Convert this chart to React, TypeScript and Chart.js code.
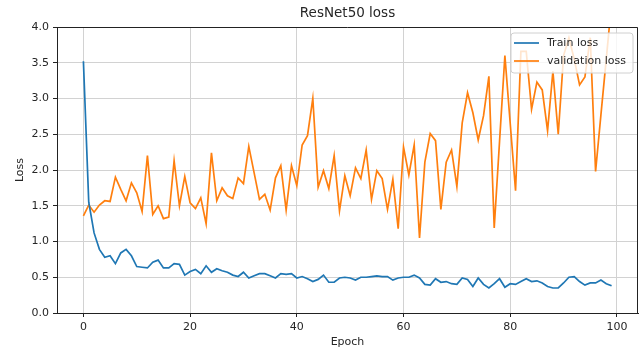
import React, { useEffect, useRef } from "react";
import { Chart, registerables } from "chart.js";

Chart.register(...registerables);

const trainLoss = [
  3.52, 1.55, 1.12, 0.89, 0.78, 0.8, 0.69, 0.84, 0.89, 0.8,
  0.65, 0.64, 0.63, 0.71, 0.74, 0.63, 0.63, 0.69, 0.68, 0.53,
  0.58, 0.61, 0.55, 0.66, 0.57, 0.62, 0.59, 0.57, 0.53, 0.51,
  0.57, 0.49, 0.52, 0.55, 0.55, 0.52, 0.49, 0.55, 0.54, 0.55,
  0.49, 0.51, 0.48, 0.44, 0.47, 0.53, 0.43, 0.43, 0.49, 0.5,
  0.49, 0.46, 0.5, 0.5, 0.51, 0.52, 0.51, 0.51, 0.46, 0.49,
  0.5, 0.5, 0.53, 0.49, 0.4, 0.39, 0.48, 0.43, 0.44, 0.41,
  0.4, 0.49, 0.47, 0.37, 0.49, 0.4, 0.35, 0.41, 0.48, 0.36,
  0.41, 0.4, 0.44, 0.48, 0.44, 0.45, 0.42, 0.37, 0.35, 0.35,
  0.42, 0.5, 0.51, 0.44, 0.39, 0.42, 0.42, 0.46, 0.41, 0.38,
];

const validationLoss = [
  1.36, 1.51, 1.41, 1.51, 1.57, 1.56, 1.9, 1.73, 1.57, 1.82,
  1.68, 1.42, 2.2, 1.38, 1.5, 1.32, 1.34, 2.13, 1.5, 1.91,
  1.54, 1.46, 1.61, 1.25, 2.24, 1.57, 1.75, 1.64, 1.6, 1.89,
  1.81, 2.33, 1.96, 1.59, 1.66, 1.44, 1.89, 2.06, 1.44, 2.06,
  1.78, 2.35, 2.48, 3.0, 1.76, 1.99, 1.74, 2.2, 1.43, 1.92,
  1.64, 2.03, 1.88, 2.28, 1.59, 1.99, 1.88, 1.45, 1.87, 1.18,
  2.32, 1.93, 2.35, 1.05, 2.11, 2.51, 2.41, 1.45, 2.11, 2.28,
  1.77, 2.66, 3.08, 2.8, 2.42, 2.76, 3.31, 1.19, 2.4, 3.6,
  2.65, 1.71, 3.66, 3.66, 2.85, 3.23, 3.12, 2.55, 3.38, 2.5,
  3.6, 3.85, 3.55, 3.19, 3.3, 3.85, 1.98, 2.77, 3.55, 4.34,
];

const epochs = trainLoss.map((_, i) => i);
const xTicks = [0, 20, 40, 60, 80, 100];
const yTicks = [0, 0.5, 1, 1.5, 2, 2.5, 3, 3.5, 4];
const chartTitle = "ResNet50 loss";
const xTitle = "Epoch";
const yTitle = "Loss";
const seriesNames = ["Train loss", "validation loss"];
const seriesColors = ["#1f77b4", "#ff7f0e"];

const FONT = "'DejaVu Sans', sans-serif";
const TEXT = "#262626";
const SPINE = "#222222";
const GRID = "#d2d2d2";

export default function App() {
  const ref = useRef<HTMLCanvasElement | null>(null);

  useEffect(() => {
    document.body.style.margin = "0";
    const canvas = ref.current;
    if (!canvas) return;

    const decorPlugin = {
      id: "mplDecor",
      afterDatasetsDraw(chart: any) {
        const { ctx, chartArea } = chart;
        const { left, right, top, bottom } = chartArea;
        ctx.save();
        // spines
        ctx.strokeStyle = SPINE;
        ctx.lineWidth = 1;
        ctx.beginPath();
        ctx.moveTo(left + 0.5, top + 0.5);
        ctx.lineTo(right - 0.5, top + 0.5);
        ctx.lineTo(right - 0.5, bottom + 0.5);
        ctx.lineTo(left + 0.5, bottom + 0.5);
        ctx.closePath();
        ctx.stroke();

        // title
        ctx.font = `13.5px ${FONT}`;
        ctx.fillStyle = TEXT;
        ctx.textAlign = "center";
        ctx.textBaseline = "middle";
        ctx.fillText(chartTitle, (left + right) / 2, 13);

        // legend
        const bw = 122;
        const bh = 40;
        const bx = right - 5 - bw;
        const by = top + 6;
        const r = 3;
        ctx.beginPath();
        ctx.moveTo(bx + r, by);
        ctx.lineTo(bx + bw - r, by);
        ctx.arcTo(bx + bw, by, bx + bw, by + r, r);
        ctx.lineTo(bx + bw, by + bh - r);
        ctx.arcTo(bx + bw, by + bh, bx + bw - r, by + bh, r);
        ctx.lineTo(bx + r, by + bh);
        ctx.arcTo(bx, by + bh, bx, by + bh - r, r);
        ctx.lineTo(bx, by + r);
        ctx.arcTo(bx, by, bx + r, by, r);
        ctx.closePath();
        ctx.fillStyle = "rgba(255,255,255,0.8)";
        ctx.fill();
        ctx.strokeStyle = "#d0d0d0";
        ctx.lineWidth = 1;
        ctx.stroke();

        ctx.font = `11px ${FONT}`;
        ctx.textAlign = "left";
        ctx.textBaseline = "middle";
        seriesNames.forEach((name, i) => {
          const ly = by + 10 + i * 18;
          ctx.strokeStyle = seriesColors[i];
          ctx.lineWidth = 1.7;
          ctx.beginPath();
          ctx.moveTo(bx + 3, ly);
          ctx.lineTo(bx + 28, ly);
          ctx.stroke();
          ctx.fillStyle = TEXT;
          ctx.fillText(name, bx + 36, ly);
        });
        ctx.restore();
      },
    };

    const chart = new Chart(canvas, {
      type: "line",
      data: {
        datasets: [
          {
            label: seriesNames[0],
            data: epochs.map((e, i) => ({ x: e, y: trainLoss[i] })),
            borderColor: seriesColors[0],
            backgroundColor: seriesColors[0],
            borderWidth: 1.7,
            pointRadius: 0,
            tension: 0,
            fill: false,
          },
          {
            label: seriesNames[1],
            data: epochs.map((e, i) => ({ x: e, y: validationLoss[i] })),
            borderColor: seriesColors[1],
            backgroundColor: seriesColors[1],
            borderWidth: 1.7,
            pointRadius: 0,
            tension: 0,
            fill: false,
          },
        ],
      },
      options: {
        responsive: false,
        animation: false,
        layout: { padding: { top: 27, right: 3, left: 0, bottom: 0 } },
        plugins: {
          legend: { display: false },
          title: { display: false },
          tooltip: { enabled: false },
        },
        scales: {
          x: {
            type: "linear",
            min: -4.95,
            max: 103.95,
            afterBuildTicks: (axis: any) => {
              axis.ticks = xTicks.map((v) => ({ value: v }));
            },
            afterFit: (axis: any) => {
              axis.height = 37;
            },
            ticks: {
              font: { family: FONT, size: 11 },
              color: TEXT,
              padding: 4,
              maxRotation: 0,
              autoSkip: false,
              callback: (v: any) => String(v),
            },
            grid: {
              color: GRID,
              tickColor: SPINE,
              tickLength: 4,
              lineWidth: 1,
            },
            border: { color: SPINE, width: 1 },
            title: {
              display: true,
              text: xTitle,
              font: { family: FONT, size: 11 },
              color: TEXT,
              padding: { top: 0, bottom: 1.5 },
            },
          },
          y: {
            type: "linear",
            min: 0,
            max: 4,
            afterBuildTicks: (axis: any) => {
              axis.ticks = yTicks.map((v) => ({ value: v }));
            },
            afterFit: (axis: any) => {
              axis.width = 57;
            },
            ticks: {
              font: { family: FONT, size: 11 },
              color: TEXT,
              padding: 4,
              autoSkip: false,
              callback: (v: any) => Number(v).toFixed(1),
            },
            grid: {
              color: GRID,
              tickColor: SPINE,
              tickLength: 4,
              lineWidth: 1,
            },
            border: { color: SPINE, width: 1 },
            title: {
              display: true,
              text: yTitle,
              font: { family: FONT, size: 11 },
              color: TEXT,
              padding: { top: 13.4, bottom: 0 },
            },
          },
        },
      },
      plugins: [decorPlugin],
    } as any);

    return () => {
      chart.destroy();
    };
  }, []);

  return (
    <div style={{ width: 641, height: 350 }}>
      <canvas ref={ref} width={641} height={350} style={{ display: "block" }} />
    </div>
  );
}
